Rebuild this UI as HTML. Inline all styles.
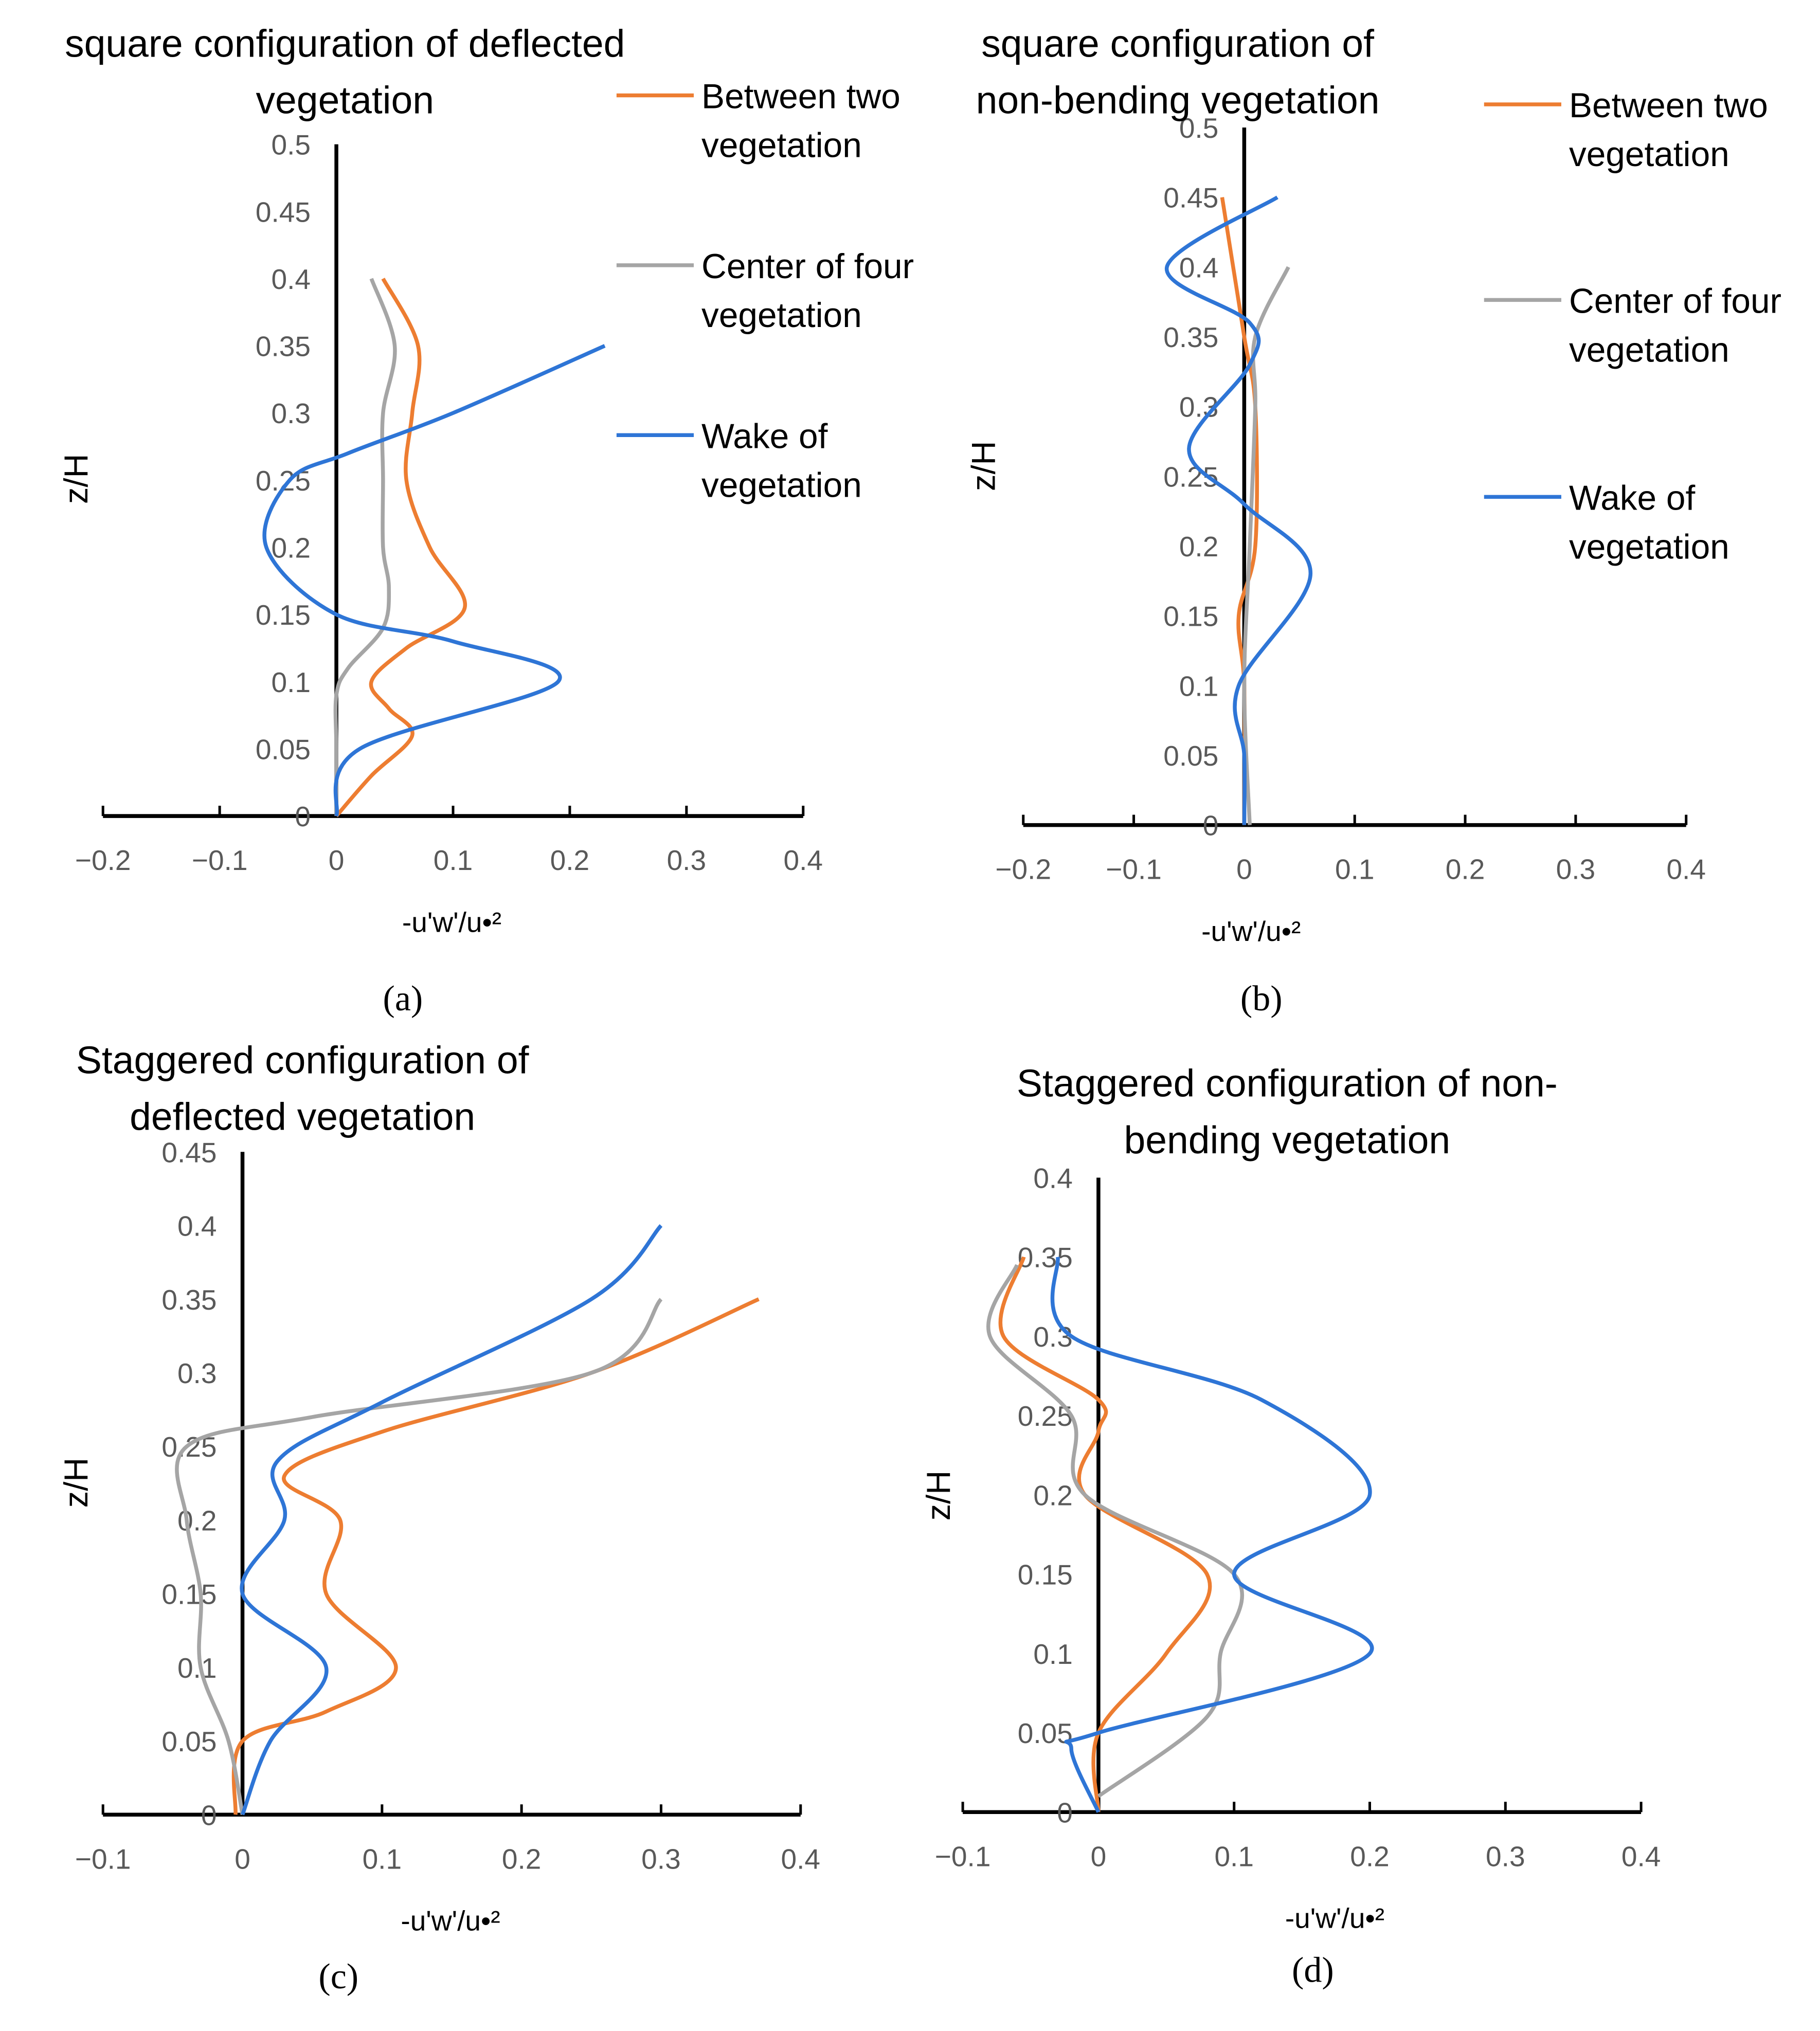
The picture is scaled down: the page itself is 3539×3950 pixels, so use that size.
<!DOCTYPE html>
<html><head><meta charset="utf-8"><style>
html,body{margin:0;padding:0;background:#fff}
svg{display:block}
text{font-family:"Liberation Sans",sans-serif}
.tick{fill:#595959;font-size:22px}
.ttl{fill:#000;font-size:30px}
.leg{fill:#000;font-size:27px}
.cap{font-family:"Liberation Serif",serif;font-size:28px}
</style></head><body>
<svg id="chart" width="3539" height="3950" viewBox="0 0 1414 1578" xmlns="http://www.w3.org/2000/svg"></svg>
<script>
// Panel data (x = -u'w'/u*^2, z = z/H)
const aOrangeX=[0,0.03,0.065,0.045,0.03,0.06,0.11,0.08,0.06,0.065,0.07,0.04];
const aOrangeZ=[0,0.03,0.06,0.08,0.1,0.125,0.155,0.2,0.25,0.3,0.35,0.4];
const aGrayX=[0,0,0,0.01,0.04,0.045,0.04,0.04,0.04,0.05,0.03];
const aGrayZ=[0,0.05,0.09,0.11,0.14,0.17,0.2,0.25,0.3,0.35,0.4];
const aBlueX=[0,0.02,0.19,0.1,0,-0.06,-0.04,0.01,0.1,0.23];
const aBlueZ=[0,0.05,0.1,0.13,0.15,0.2,0.25,0.27,0.3,0.35];

const bOrangeX=[0,0,-0.005,0.01,0.01,0,-0.02];
const bOrangeZ=[0,0.1,0.15,0.2,0.3,0.35,0.45];
const bGrayX=[0.005,0,0.005,0.01,0.01,0.04];
const bGrayZ=[0,0.1,0.2,0.3,0.35,0.4];
const bBlueX=[0,0,-0.005,0.06,0,-0.05,0.005,0.005,-0.07,0.03];
const bBlueZ=[0,0.05,0.1,0.18,0.23,0.27,0.33,0.36,0.4,0.45];

const cOrangeX=[-0.005,0,0.06,0.11,0.06,0.07,0.03,0.1,0.25,0.37];
const cOrangeZ=[0,0.05,0.07,0.1,0.15,0.2,0.23,0.26,0.3,0.35];
const cGrayX=[0,-0.01,-0.03,-0.03,-0.04,-0.04,0.05,0.25,0.3];
const cGrayZ=[0,0.05,0.1,0.15,0.2,0.25,0.27,0.3,0.35];
const cBlueX=[0,0.02,0.06,0,0.03,0.025,0.1,0.25,0.3];
const cBlueZ=[0,0.05,0.1,0.15,0.2,0.24,0.28,0.35,0.4];

const dOrangeX=[0,0,0.05,0.08,-0.01,0,0,-0.07,-0.055];
const dOrangeZ=[0,0.05,0.1,0.15,0.2,0.24,0.26,0.3,0.35];
const dGrayX=[0,0.08,0.09,0.1,-0.01,-0.02,-0.08,-0.06];
const dGrayZ=[0.01,0.06,0.1,0.15,0.2,0.25,0.3,0.345];
const dBlueX=[0,-0.02,0,0.2,0.1,0.2,0.12,-0.02,-0.03];
const dBlueZ=[0,0.04,0.05,0.1,0.15,0.2,0.26,0.3,0.35];

const NS="http://www.w3.org/2000/svg";
const svg=document.getElementById('chart');
function el(t,a,txt){const e=document.createElementNS(NS,t);for(const k in a)e.setAttribute(k,a[k]);if(txt!==undefined)e.textContent=txt;svg.appendChild(e);return e;}

function smooth(pts){
  let d=`M${pts[0][0]},${pts[0][1]}`;
  for(let i=0;i<pts.length-1;i++){
    const p0=pts[i-1]||pts[i],p1=pts[i],p2=pts[i+1],p3=pts[i+2]||p2;
    const c1=[p1[0]+(p2[0]-p0[0])/6,p1[1]+(p2[1]-p0[1])/6];
    const c2=[p2[0]-(p3[0]-p1[0])/6,p2[1]-(p3[1]-p1[1])/6];
    d+=` C${c1[0]},${c1[1]} ${c2[0]},${c2[1]} ${p2[0]},${p2[1]}`;
  }
  return d;
}

function panel(p){
  const sx=v=>p.x0+(v-p.xmin)/(p.xmax-p.xmin)*(p.x1-p.x0);
  const sy=v=>p.y0-(v/p.ymax)*(p.y0-p.y1);
  const ax=sx(0);
  const g=el('line',{x1:p.x0,y1:p.y0,x2:p.x1,y2:p.y0,stroke:'#000','stroke-width':3});
  
  
  const v=el('line',{x1:ax,y1:p.y0,x2:ax,y2:p.y1,stroke:'#000','stroke-width':3});
  
  
  for(let t=p.xmin;t<=p.xmax+1e-9;t+=0.1){
    const X=sx(t);
    el('line',{x1:X,y1:p.y0,x2:X,y2:p.y0-8,stroke:'#000','stroke-width':2});
    const lbl=Math.abs(t)<1e-9?'0':(t<0?'\u2212'+(-t).toFixed(1):t.toFixed(1));
    const tx=el('text',{x:X,y:p.y0+42,'text-anchor':'middle',class:'tick'},lbl);
    
    
  }
  for(let t=0;t<=p.ymax+1e-9;t+=0.05){
    const Y=sy(t);
    const lbl=t<1e-9?'0':(+t.toFixed(2)).toString();
    const ty=el('text',{x:ax-20,y:Y+8,'text-anchor':'end',class:'tick'},lbl);
    
    
  }
  const xt=el('text',{x:p.xtX,y:p.y0+90,'text-anchor':'middle',class:'tick',style:'fill:#000'},"-u'w'/u\u2022\u00b2");
  
  
  const yt=el('text',{x:0,y:0,transform:`translate(${p.ytX},${p.ytY}) rotate(-90)`,'text-anchor':'middle',class:'tick',style:'fill:#000;font-size:26px'},'z/H');
  
  
  p.series.forEach(s=>{
    const pts=s.x.map((xv,i)=>[sx(xv),sy(s.z[i])]);
    const path=el('path',{d:smooth(pts),fill:'none',stroke:s.c,'stroke-width':3});
    
    
  });
  p.title.forEach((l,i)=>{
    const t=el('text',{x:p.tX,y:p.tY+i*44,'text-anchor':'middle',class:'ttl'},l);
    
    
  });
  const c=el('text',{x:p.capX,y:p.capY,'text-anchor':'middle',class:'cap'},p.cap);
  
  
}
const OR='#ED7D31',GR='#A5A5A5',BL='#4472C4';
const BLc='#2E75D6';
panel({id:'a',x0:80,x1:624,xmin:-0.2,xmax:0.4,y0:634,y1:112,ymax:0.5,xtX:351,ytX:68,ytY:372,tX:268,tY:44,title:['square configuration of deflected','vegetation'],capX:313,capY:785,cap:'(a)',
 series:[{n:'between-two',x:aOrangeX,z:aOrangeZ,c:OR},{n:'center-of-four',x:aGrayX,z:aGrayZ,c:GR},{n:'wake',x:aBlueX,z:aBlueZ,c:BLc}]});
panel({id:'b',x0:795,x1:1310,xmin:-0.2,xmax:0.4,y0:641,y1:99,ymax:0.5,xtX:972,ytX:773,ytY:362,tX:915,tY:44,title:['square configuration of','non-bending vegetation'],capX:980,capY:785,cap:'(b)',
 series:[{n:'between-two',x:bOrangeX,z:bOrangeZ,c:OR},{n:'center-of-four',x:bGrayX,z:bGrayZ,c:GR},{n:'wake',x:bBlueX,z:bBlueZ,c:BLc}]});
panel({id:'c',x0:80,x1:622,xmin:-0.1,xmax:0.4,y0:1410,y1:895,ymax:0.45,xtX:350,ytX:68,ytY:1152,tX:235,tY:834,title:['Staggered configuration of','deflected vegetation'],capX:263,capY:1545,cap:'(c)',
 series:[{n:'between-two',x:cOrangeX,z:cOrangeZ,c:OR},{n:'center-of-four',x:cGrayX,z:cGrayZ,c:GR},{n:'wake',x:cBlueX,z:cBlueZ,c:BLc}]});
panel({id:'d',x0:748,x1:1275,xmin:-0.1,xmax:0.4,y0:1408,y1:915,ymax:0.4,xtX:1037,ytX:738,ytY:1162,tX:1000,tY:852,title:['Staggered configuration of non-','bending vegetation'],capX:1020,capY:1540,cap:'(d)',
 series:[{n:'between-two',x:dOrangeX,z:dOrangeZ,c:OR},{n:'center-of-four',x:dGrayX,z:dGrayZ,c:GR},{n:'wake',x:dBlueX,z:dBlueZ,c:BLc}]});

function legend(id,x,ys){
  const items=[['between-two',OR,'Between two','vegetation'],['center-of-four',GR,'Center of four','vegetation'],['wake',BLc,'Wake of','vegetation']];
  items.forEach((it,i)=>{
    const y=ys[i];
    const l=el('line',{x1:x,y1:y,x2:x+60,y2:y,stroke:it[1],'stroke-width':3});
    
    
    const t1=el('text',{x:x+66,y:y+10,class:'leg'},it[2]);
    
    
    const t2=el('text',{x:x+66,y:y+48,class:'leg'},it[3]);
    
    
  });
}
legend('a',479,[74,206,338]);
legend('b',1153,[81,233,386]);
</script>
</body></html>
